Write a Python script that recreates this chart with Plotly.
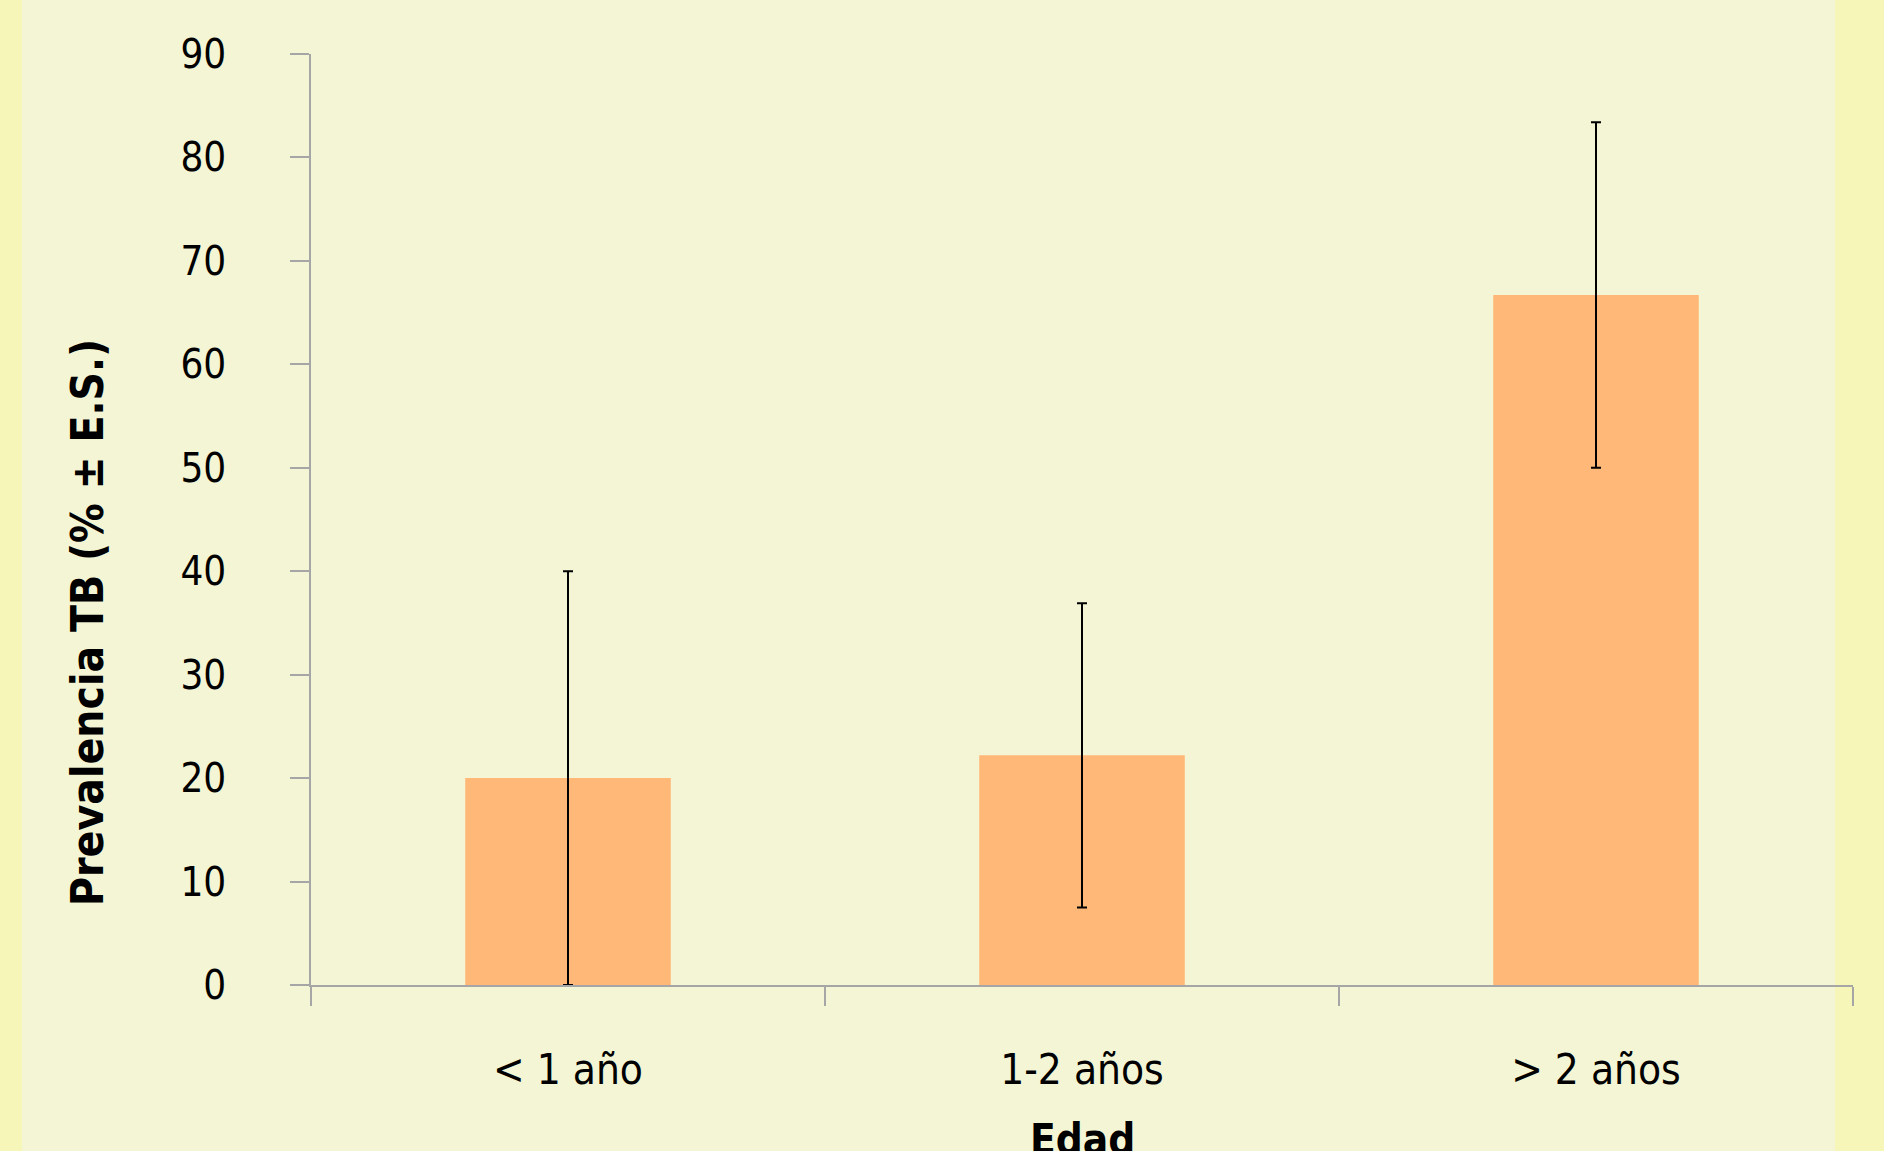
import plotly.graph_objects as go

categories = ["< 1 año", "1-2 años", "> 2 años"]
prevalence = [20.0, 22.2, 66.7]
err_plus = [20.0, 14.7, 16.7]
err_minus = [20.0, 14.7, 16.7]
y_ticks = [0, 10, 20, 30, 40, 50, 60, 70, 80, 90]

FONT = "DejaVu Sans Condensed, DejaVu Sans, sans-serif"
W, H = 1884, 1151
L, R, T, B = 311, 31, 54, 166
PW, PH = W - L - R, H - T - B

fig = go.Figure()
fig.add_trace(go.Bar(
    x=categories, y=prevalence,
    marker=dict(color="#FFB878", line=dict(width=0)),
    width=0.4,
    error_y=dict(type="data", symmetric=False, array=err_plus, arrayminus=err_minus,
                 color="black", thickness=2, width=5),
))

fig.update_layout(
    width=W, height=H,
    margin=dict(l=L, r=R, t=T, b=B, pad=0, autoexpand=False),
    paper_bgcolor="#F6F6B8",
    plot_bgcolor="rgba(0,0,0,0)",
    showlegend=False,
    font=dict(family=FONT, color="black"),
    shapes=[dict(type="rect", xref="paper", yref="paper", layer="below",
                 x0=(22 - L) / PW, x1=(1835 - L) / PW,
                 y0=-1, y1=2,
                 fillcolor="#F3F5D5", line=dict(width=0))],
    annotations=[
        dict(text="<b>Prevalencia TB (% ± E.S.)</b>", textangle=-90,
             xref="paper", yref="paper",
             x=(87 - L) / PW, y=(H - B - 622) / PH,
             xanchor="center", yanchor="middle", showarrow=False,
             font=dict(size=44, family=FONT, color="black")),
        dict(text="<b>Edad</b>",
             xref="paper", yref="paper",
             x=0.5, y=(H - B - 1113) / PH,
             xanchor="center", yanchor="top", showarrow=False,
             font=dict(size=42, family=FONT, color="black")),
    ],
)
fig.update_xaxes(
    type="category", tickson="boundaries", automargin=False,
    showline=True, linecolor="#A6A6A6", linewidth=1.5,
    ticks="outside", ticklen=19, tickcolor="#A6A6A6", tickwidth=1.5,
    showgrid=False, zeroline=False,
    tickfont=dict(size=42, family=FONT), ticklabelstandoff=47,
)
fig.update_yaxes(
    range=[0, 90], tickvals=y_ticks, automargin=False,
    showline=True, linecolor="#A6A6A6", linewidth=1.5,
    ticks="outside", ticklen=19, tickcolor="#A6A6A6", tickwidth=1.5,
    showgrid=False, zeroline=False,
    tickfont=dict(size=40, family=FONT), ticklabelstandoff=56,
)

fig.write_html("out.html", config={"displayModeBar": False},
               post_script="document.body.style.margin='0';")
